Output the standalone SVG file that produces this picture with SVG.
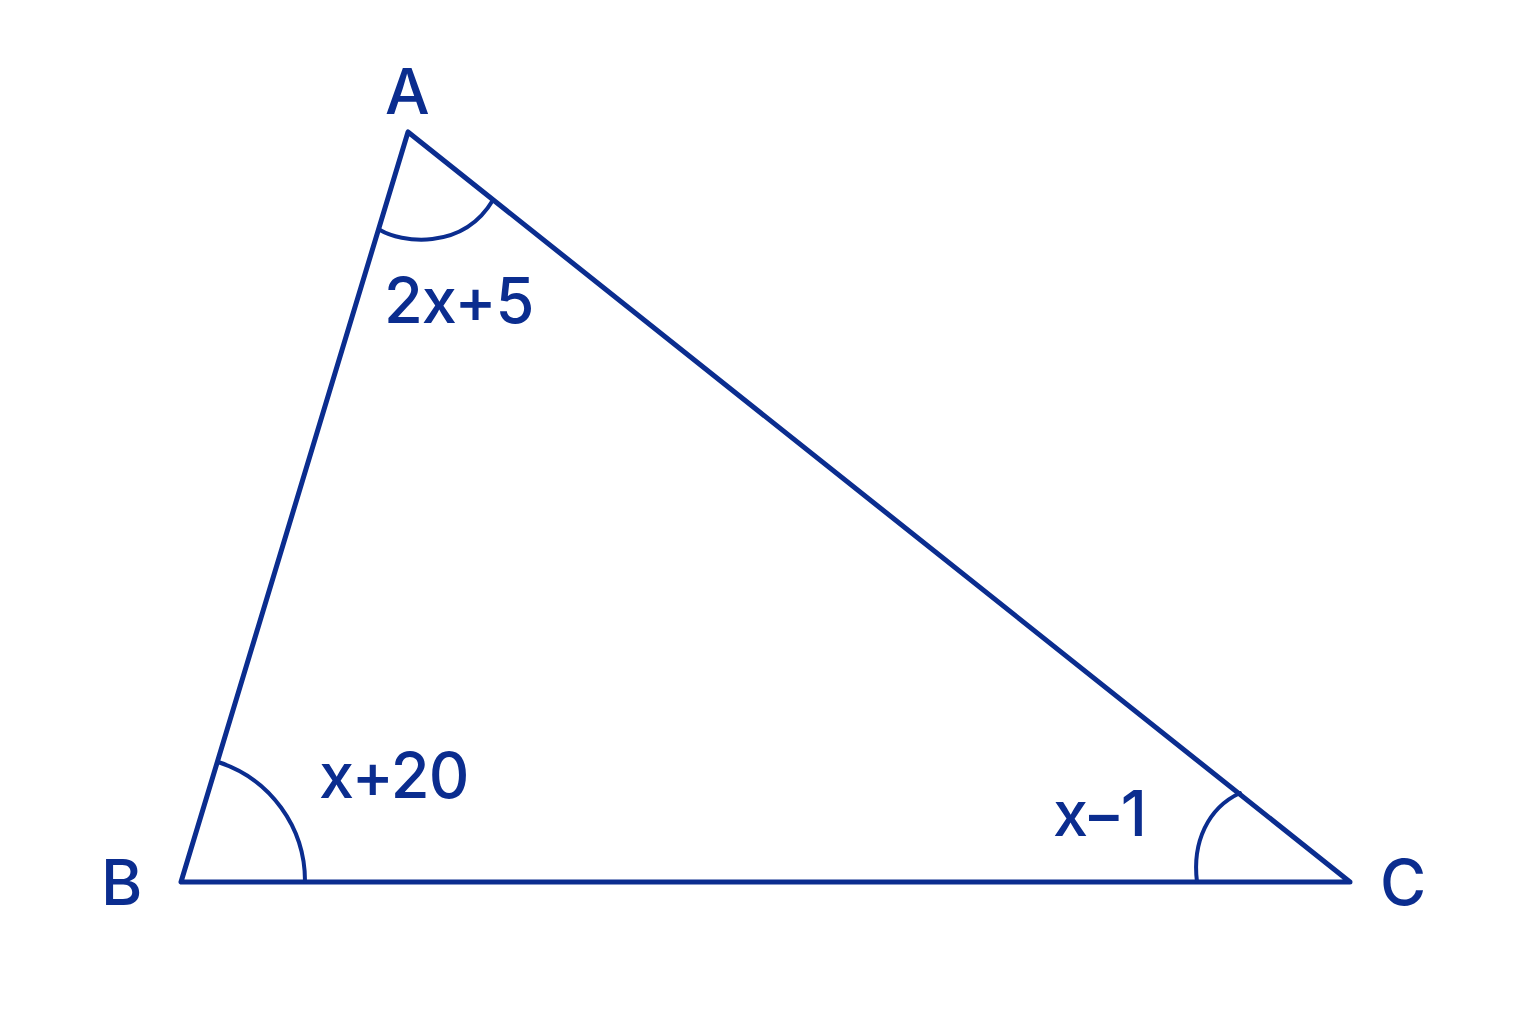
<svg xmlns="http://www.w3.org/2000/svg" width="1536" height="1024" viewBox="0 0 1536 1024">
<style>
.ln{fill:none;stroke:#0b2d8f;stroke-width:5;stroke-linecap:round;stroke-linejoin:round}
.arc{fill:none;stroke:#0b2d8f;stroke-width:4;stroke-linecap:round}
.t{font-family:Inter,"Liberation Sans",sans-serif;font-size:63px;fill:#0b2d8f;font-weight:500;letter-spacing:-1px}
</style>
<rect width="1536" height="1024" fill="#ffffff"/>
<g id="connectors">
<path class="ln" d="M408,132 L181,882 L1350,882 Z"/>
</g>
<g id="angleA">
<path class="arc" d="M380,230 C400,242 462,252 493,200"/>
<text class="t" x="384" y="323">2x+5</text>
</g>
<g id="angleB">
<path class="arc" d="M218,762 A125,125 0 0 1 305,882"/>
<text class="t" x="319" y="798">x+20</text>
</g>
<g id="angleC">
<path class="arc" d="M1240,793 C1208,808 1192,842 1197,882"/>
<text class="t" x="1053" y="836" style="letter-spacing:-4px">x−1</text>
</g>
<g id="A"><text class="t" x="385" y="114">A</text></g>
<g id="B"><text class="t" x="101" y="905">B</text></g>
<g id="C"><text class="t" x="1380" y="905">C</text></g>
</svg>
